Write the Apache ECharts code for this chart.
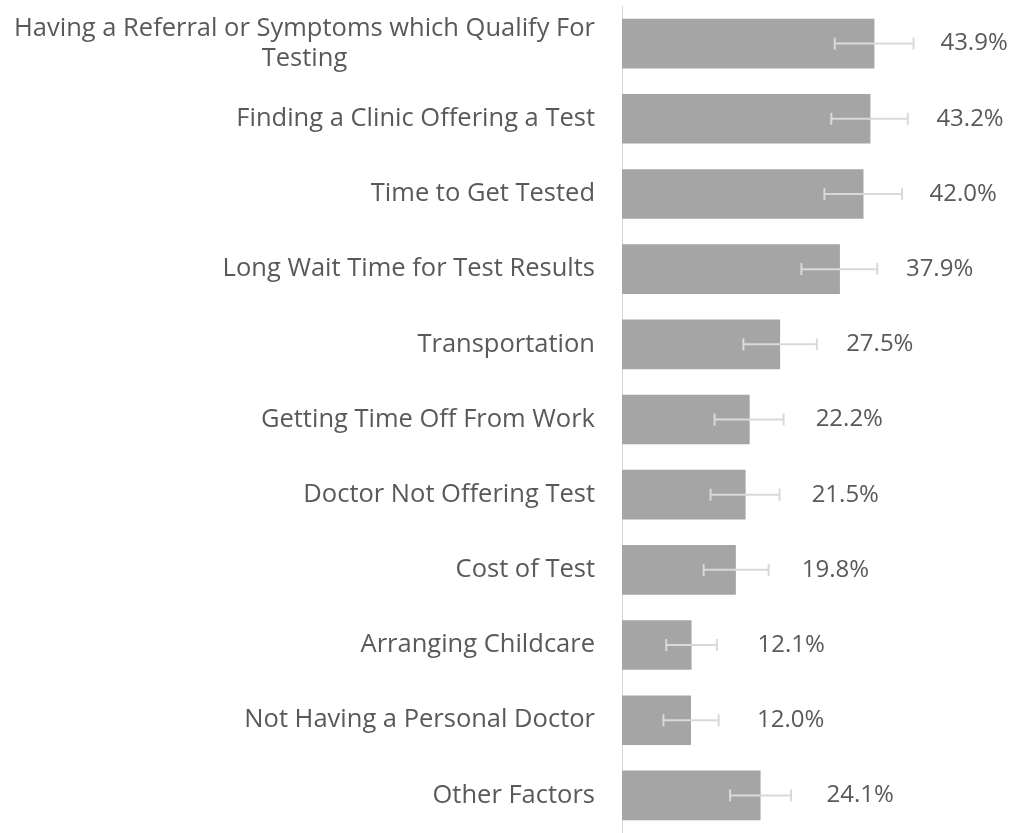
<!DOCTYPE html>
<html>
<head>
<meta charset="utf-8">
<script src="https://cdn.jsdelivr.net/npm/echarts@6/dist/echarts.min.js"></script>
<style>
  html, body { margin: 0; padding: 0; background: #fff; }
  #chart { width: 1014px; height: 833px; }
</style>
</head>
<body>
<div id="chart"></div>
<script>
// categories, top to bottom
var categories = [
  'Having a Referral or Symptoms which Qualify For\nTesting',
  'Finding a Clinic Offering a Test',
  'Time to Get Tested',
  'Long Wait Time for Test Results',
  'Transportation',
  'Getting Time Off From Work',
  'Doctor Not Offering Test',
  'Cost of Test',
  'Arranging Childcare',
  'Not Having a Personal Doctor',
  'Other Factors'
]
var values = [43.9, 43.2, 42.0, 37.9, 27.5, 22.2, 21.5, 19.8, 12.1, 12.0, 24.1]
// error bar bounds
var errLow = [37.0, 36.4, 35.2, 31.2, 21.1, 16.1, 15.4, 14.2, 7.7, 7.2, 18.8]
var errHigh = [50.7, 49.7, 48.7, 44.4, 33.9, 28.1, 27.4, 25.5, 16.5, 16.8, 29.4]

var textColor = '#595959'
var font = '"Open Sans", "Noto Sans", sans-serif'
var catSize = 25.5

var chart = echarts.init(document.getElementById('chart'))

var option = {
  animation: false,
  grid: {
    left: 622,
    right: 47,
    top: 6,
    bottom: -5,
    containLabel: false
  },
  xAxis: {
    type: 'value',
    min: 0,
    max: 60,
    show: false
  },
  yAxis: {
    type: 'category',
    inverse: true,
    data: categories,
    axisLine: { show: true, lineStyle: { color: '#d9d9d9', width: 1 } },
    axisTick: { show: false },
    axisLabel: {
      margin: 27,
      color: textColor,
      fontFamily: font,
      fontSize: catSize,
      lineHeight: 30,
      formatter: function (v) {
        var parts = v.split('\n')
        if (parts.length === 1) return v
        // first line right aligned, second line centred under it
        return '{a|' + parts[0] + '}\n{c|' + parts[1] + '}'
      },
      rich: {
        a: { color: textColor, fontFamily: font, fontSize: catSize, lineHeight: 30 },
        c: { color: textColor, fontFamily: font, fontSize: catSize, lineHeight: 30, align: 'center' }
      }
    }
  },
  series: [
    {
      type: 'bar',
      data: values,
      barCategoryGap: '34%',
      itemStyle: { color: '#a5a5a5' },
      label: {
        show: true,
        position: 'right',
        distance: 66,
        color: textColor,
        fontFamily: font,
        fontSize: 24,
        formatter: function (p) { return p.value.toFixed(1) + '%' }
      },
      z: 2
    },
    {
      type: 'custom',
      z: 3,
      data: values.map(function (v, i) { return [i, errLow[i], errHigh[i]] }),
      renderItem: function (params, api) {
        var idx = api.value(0)
        var lo = api.coord([api.value(1), idx])
        var hi = api.coord([api.value(2), idx])
        var cap = 6
        var style = { stroke: '#d9d9d9', lineWidth: 2, fill: null }
        return {
          type: 'group',
          children: [
            { type: 'line', shape: { x1: lo[0], y1: lo[1], x2: hi[0], y2: hi[1] }, style: style },
            { type: 'line', shape: { x1: lo[0], y1: lo[1] - cap, x2: lo[0], y2: lo[1] + cap }, style: style },
            { type: 'line', shape: { x1: hi[0], y1: hi[1] - cap, x2: hi[0], y2: hi[1] + cap }, style: style }
          ]
        }
      }
    }
  ]
}

chart.setOption(option)
</script>
</body>
</html>
